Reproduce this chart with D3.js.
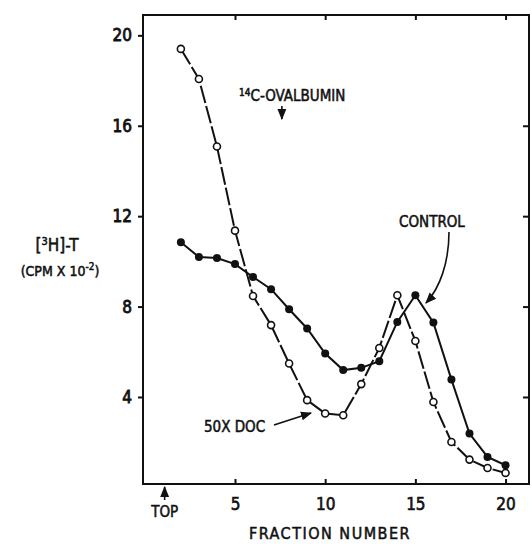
<!DOCTYPE html>
<html>
<head>
<meta charset="utf-8">
<script src="https://cdn.jsdelivr.net/npm/d3@7"></script>
<style>
  body { margin: 0; background: #fff; }
  text { font-family: "DejaVu Sans Condensed", "Liberation Sans Narrow", sans-serif; font-weight: normal; fill: #111; stroke: #111; stroke-width: 0.5px; }
  .axis path, .axis line { stroke: #111; stroke-width: 2; }
  .lijn { fill: none; stroke: #111; stroke-width: 2; }
</style>
</head>
<body>
<div id="chart"></div>
<script>
// fractions 2..20
var fractions = [2, 3, 4, 5, 6, 7, 8, 9, 10, 11, 12, 13, 14, 15, 16, 17, 18, 19, 20];
var control = [10.85, 10.19, 10.15, 9.88, 9.31, 8.77, 7.88, 7.03, 5.92, 5.19, 5.29, 5.58, 7.32, 8.5, 7.29, 4.77, 2.38, 1.35, 0.98];
var doc50 = [19.4, 18.07, 15.08, 11.36, 8.47, 7.18, 5.48, 3.86, 3.27, 3.19, 4.57, 6.17, 8.5, 6.48, 3.78, 2.01, 1.23, 0.86, 0.64];
var yTicks = [4, 8, 12, 16, 20];
var xTicks = [5, 10, 15, 20];

var width = 532, height = 544;

var svg = d3.select("#chart")
  .append("svg")
  .attr("width", width)
  .attr("height", height);

var xScale = d3.scaleLinear().domain([-0.1, 21.3]).range([143, 529]);
var yScale = d3.scaleLinear().domain([0.15, 20.9]).range([484, 15]);

// frame
svg.append("rect")
  .attr("x", xScale.range()[0])
  .attr("y", yScale.range()[1])
  .attr("width", xScale.range()[1] - xScale.range()[0])
  .attr("height", yScale.range()[0] - yScale.range()[1])
  .attr("fill", "none")
  .attr("stroke", "#111")
  .attr("stroke-width", 2);

// left axis
var yAxis = svg.append("g")
  .attr("class", "axis")
  .attr("transform", "translate(" + xScale.range()[0] + ",0)")
  .call(d3.axisLeft(yScale).tickValues(yTicks).tickSize(5).tickPadding(6).tickFormat(d3.format("d")));
yAxis.select(".domain").remove();
yAxis.selectAll("text").style("font-size", "17px").style("stroke-width", "0.8px");

// bottom axis (ticks inside)
var xAxis = svg.append("g")
  .attr("class", "axis")
  .attr("transform", "translate(0," + yScale.range()[0] + ")")
  .call(d3.axisBottom(xScale).tickValues(xTicks).tickSizeInner(-5).tickSizeOuter(0).tickPadding(14).tickFormat(d3.format("d")));
xAxis.select(".domain").remove();
xAxis.selectAll("text").style("font-size", "17px").style("stroke-width", "0.6px");

// top axis ticks
var topAxis = svg.append("g")
  .attr("class", "axis")
  .attr("transform", "translate(0," + yScale.range()[1] + ")")
  .call(d3.axisTop(xScale).tickValues(xTicks).tickSizeInner(-5).tickSizeOuter(0).tickFormat(""));
topAxis.select(".domain").remove();

// right axis ticks
var rightAxis = svg.append("g")
  .attr("class", "axis")
  .attr("transform", "translate(" + xScale.range()[1] + ",0)")
  .call(d3.axisRight(yScale).tickValues([4, 8, 12, 16]).tickSizeInner(-6).tickSizeOuter(0).tickFormat(""));
rightAxis.select(".domain").remove();

var line = d3.line()
  .x(function(d, i) { return xScale(fractions[i]); })
  .y(function(d) { return yScale(d); });

svg.append("path")
  .datum(control)
  .attr("class", "lijn")
  .attr("d", line);

svg.append("path")
  .datum(doc50)
  .attr("class", "lijn")
  .attr("stroke-dasharray", "18,3")
  .attr("d", line);

svg.selectAll(".dot-c")
  .data(control)
  .enter().append("circle")
  .attr("class", "dot-c")
  .attr("cx", function(d, i) { return xScale(fractions[i]); })
  .attr("cy", function(d) { return yScale(d); })
  .attr("r", 4)
  .attr("fill", "#111");

svg.selectAll(".dot-o")
  .data(doc50)
  .enter().append("circle")
  .attr("class", "dot-o")
  .attr("cx", function(d, i) { return xScale(fractions[i]); })
  .attr("cy", function(d) { return yScale(d); })
  .attr("r", 3.5)
  .attr("fill", "#fff")
  .attr("stroke", "#111")
  .attr("stroke-width", 1.6);

// arrowhead marker
svg.append("defs").append("marker")
  .attr("id", "arrow")
  .attr("viewBox", "0 0 10 10")
  .attr("refX", 9)
  .attr("refY", 5)
  .attr("markerWidth", 7)
  .attr("markerHeight", 7)
  .attr("orient", "auto")
  .append("path")
  .attr("d", "M0,1 L10,5 L0,9 z")
  .attr("fill", "#111");

// 14C-ovalbumin marker
var ova = svg.append("text")
  .attr("x", 239)
  .attr("y", 101)
  .style("font-size", "15px");
ova.append("tspan").text("14").style("font-size", "10px").attr("dy", -5);
ova.append("tspan").text("C-OVALBUMIN").attr("dy", 5);

svg.append("line")
  .attr("x1", xScale(7.6)).attr("x2", xScale(7.6))
  .attr("y1", 106).attr("y2", 119)
  .attr("stroke", "#111").attr("stroke-width", 1.6)
  .attr("marker-end", "url(#arrow)");

// CONTROL label
svg.append("text")
  .attr("x", 399)
  .attr("y", 227)
  .style("font-size", "15px")
  .text("CONTROL");

svg.append("path")
  .attr("d", "M449,232 C449,262 440,288 426,303")
  .attr("fill", "none")
  .attr("stroke", "#111")
  .attr("stroke-width", 1.6)
  .attr("marker-end", "url(#arrow)");

// 50X DOC label
svg.append("text")
  .attr("x", 204)
  .attr("y", 432)
  .style("font-size", "15px")
  .text("50X DOC");

svg.append("line")
  .attr("x1", 274).attr("y1", 425)
  .attr("x2", 311).attr("y2", 413)
  .attr("stroke", "#111").attr("stroke-width", 1.6)
  .attr("marker-end", "url(#arrow)");

// TOP marker
svg.append("line")
  .attr("x1", xScale(1.1)).attr("x2", xScale(1.1))
  .attr("y1", 500).attr("y2", 487)
  .attr("stroke", "#111").attr("stroke-width", 1.6)
  .attr("marker-end", "url(#arrow)");

svg.append("text")
  .attr("x", xScale(1.1))
  .attr("y", 517)
  .attr("text-anchor", "middle")
  .style("font-size", "15px")
  .text("TOP");

// axis labels
svg.append("text")
  .attr("x", 330)
  .attr("y", 539)
  .attr("text-anchor", "middle")
  .style("font-size", "16px")
  .style("letter-spacing", "1.5px")
  .text("FRACTION NUMBER");

var yl = svg.append("text")
  .attr("x", 57)
  .attr("y", 251)
  .attr("text-anchor", "middle")
  .style("font-size", "17px");
yl.append("tspan").text("[");
yl.append("tspan").text("3").style("font-size", "11px").attr("dy", -6);
yl.append("tspan").text("H]-T").attr("dy", 6);

var yl2 = svg.append("text")
  .attr("x", 60)
  .attr("y", 276)
  .attr("text-anchor", "middle")
  .style("font-size", "14px");
yl2.append("tspan").text("(CPM X 10");
yl2.append("tspan").text("-2").style("font-size", "10px").attr("dy", -6);
yl2.append("tspan").text(")").attr("dy", 6);
</script>
</body>
</html>
